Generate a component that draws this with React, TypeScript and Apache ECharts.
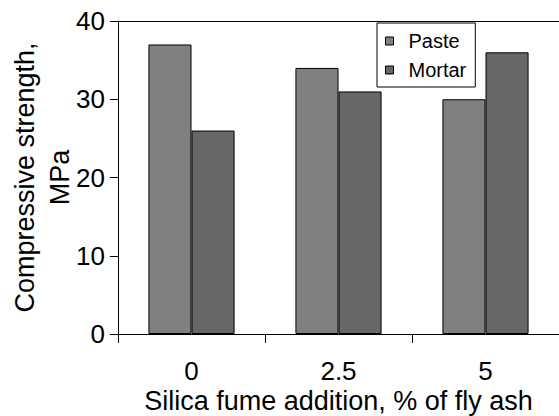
import React, { useEffect, useRef } from "react";
import * as echarts from "echarts";

const categories = ["0", "2.5", "5"];
const pasteValues = [37, 34, 30];
const mortarValues = [26, 31, 36];
const yTicks = { min: 0, max: 40, interval: 10 };

export default function App() {
  const ref = useRef<HTMLDivElement>(null);
  useEffect(() => {
    document.body.style.margin = "0";
    const chart = echarts.init(ref.current!, null, { renderer: "svg" });
    const font = "'Liberation Sans', Arial, sans-serif";
    chart.setOption({
      animation: false,
      backgroundColor: "#ffffff",
      textStyle: { fontFamily: font, color: "#000" },
      grid: { left: 118, top: 21, right: 0, bottom: 82, containLabel: false, outerBoundsMode: "none" },
      legend: {
        orient: "vertical",
        left: 377,
        top: 23,
        padding: [8, 9, 7, 8],
        itemGap: 9,
        itemWidth: 8,
        itemHeight: 8,
        backgroundColor: "#fff",
        borderColor: "#000",
        borderWidth: 1,
        borderRadius: 0,
        icon: "rect",
        itemStyle: { borderColor: "#000", borderWidth: 1 },
        textStyle: { fontFamily: font, fontSize: 20, color: "#000", padding: [0, 0, 0, 10] },
        data: ["Paste", "Mortar"],
      },
      xAxis: [
        {
          type: "category",
          data: categories,
          position: "bottom",
          axisLine: { lineStyle: { color: "#000", width: 1 } },
          axisTick: { show: true, inside: false, length: 9, alignWithLabel: false, lineStyle: { color: "#000" } },
          axisLabel: { fontFamily: font, fontSize: 26, lineHeight: 26, color: "#000", margin: 24 },
          name: "Silica fume addition, % of fly ash",
          nameLocation: "middle",
          nameGap: 55,
          nameMoveOverlap: false,
          nameTextStyle: { fontFamily: font, fontSize: 27, lineHeight: 24, color: "#000" },
        },
        {
          type: "category",
          data: categories,
          position: "top",
          axisLine: { show: true, lineStyle: { color: "#000", width: 1 } },
          axisTick: { show: false },
          axisLabel: { show: false },
        },
      ],
      yAxis: {
        type: "value",
        min: yTicks.min,
        max: yTicks.max,
        interval: yTicks.interval,
        splitLine: { show: false },
        axisLine: { show: true, lineStyle: { color: "#000", width: 1 } },
        axisTick: { show: true, inside: false, length: 8, lineStyle: { color: "#000" } },
        axisLabel: { fontFamily: font, fontSize: 26, color: "#000", margin: 13 },
        name: "Compressive strength,\nMPa",
        nameLocation: "middle",
        nameRotate: 90,
        nameGap: 41,
        nameMoveOverlap: false,
        nameTextStyle: { fontFamily: font, fontSize: 27, color: "#000", lineHeight: 35, align: "center" },
      },
      series: [
        {
          name: "Paste",
          type: "bar",
          data: pasteValues,
          barWidth: "29.3%",
          barGap: "0%",
          itemStyle: { color: "#808080", borderColor: "#000", borderWidth: 1 },
        },
        {
          name: "Mortar",
          type: "bar",
          data: mortarValues,
          barWidth: "29.3%",
          barGap: "0%",
          itemStyle: { color: "#676767", borderColor: "#000", borderWidth: 1 },
        },
      ],
    });
    return () => chart.dispose();
  }, []);
  return <div ref={ref} style={{ position: "fixed", left: 0, top: 0, width: 559, height: 416 }} />;
}
